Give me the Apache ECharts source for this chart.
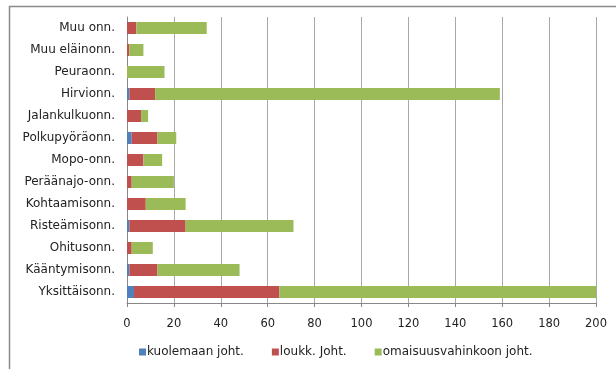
<!DOCTYPE html>
<html>
<head>
<meta charset="utf-8">
<script src="https://cdn.jsdelivr.net/npm/echarts@6/dist/echarts.min.js"></script>
<style>
  html, body { margin: 0; padding: 0; background: #fff; }
  #chart { width: 616px; height: 369px; }
</style>
</head>
<body>
<div id="chart"></div>
<script>
// Accident types, listed bottom-to-top as drawn on the category axis
const categories = [
  'Yksittäisonn.', 'Kääntymisonn.', 'Ohitusonn.', 'Risteämisonn.', 'Kohtaamisonn.',
  'Peräänajo-onn.', 'Mopo-onn.', 'Polkupyöräonn.', 'Jalankulkuonn.', 'Hirvionn.',
  'Peuraonn.', 'Muu eläinonn.', 'Muu onn.'
];
const seriesNames = ['kuolemaan joht.', 'loukk. Joht.', 'omaisuusvahinkoon joht.'];
const fatal    = [3, 1, 0, 1, 0, 0, 0, 2, 0, 1, 0, 0, 0];
const injury   = [62, 12, 2, 24, 8, 2, 7, 11, 6, 11, 0, 1, 4];
const property = [135, 35, 9, 46, 17, 18, 8, 8, 3, 147, 16, 6, 30];
const xTicks = { min: 0, max: 200, step: 20 };

const colors = ['#4F81BD', '#C0504D', '#9BBB59'];
const font = '"DejaVu Sans", Verdana, sans-serif';

const chart = echarts.init(document.getElementById('chart'), null, { renderer: 'canvas' });
chart.setOption({
  animation: false,
  color: colors,
  textStyle: { fontFamily: font },
  graphic: [
    { type: 'line', shape: { x1: 9.5, y1: 6, x2: 9.5, y2: 369 }, style: { stroke: '#8a8a8a', lineWidth: 1.5 } },
    { type: 'line', shape: { x1: 9, y1: 6.5, x2: 616, y2: 6.5 }, style: { stroke: '#8a8a8a', lineWidth: 1.5 } }
  ],
  legend: {
    bottom: 6,
    left: 134,
    itemWidth: 7,
    itemHeight: 7,
    itemGap: 28,
    icon: 'rect',
    textStyle: { fontSize: 12, color: '#222', padding: [0, 0, 0, -4] },
    data: seriesNames
  },
  grid: { left: 127, right: 20, top: 17, bottom: 66 },
  xAxis: {
    type: 'value',
    min: xTicks.min,
    max: xTicks.max,
    interval: xTicks.step,
    axisLine: { show: true, lineStyle: { color: '#888' } },
    axisTick: { show: true, length: 4, lineStyle: { color: '#888' } },
    axisLabel: { fontSize: 11.5, color: '#222', margin: 15 },
    splitLine: { show: true, lineStyle: { color: '#a8a8a8', width: 1 } }
  },
  yAxis: {
    type: 'category',
    data: categories,
    axisLine: { show: true, lineStyle: { color: '#888' } },
    axisTick: { show: false },
    axisLabel: { fontSize: 12, color: '#222', margin: 12 }
  },
  series: [
    { name: seriesNames[0], type: 'bar', stack: 'total', data: fatal, barWidth: 12 },
    { name: seriesNames[1], type: 'bar', stack: 'total', data: injury, barWidth: 12 },
    { name: seriesNames[2], type: 'bar', stack: 'total', data: property, barWidth: 12 }
  ]
});
</script>
</body>
</html>
